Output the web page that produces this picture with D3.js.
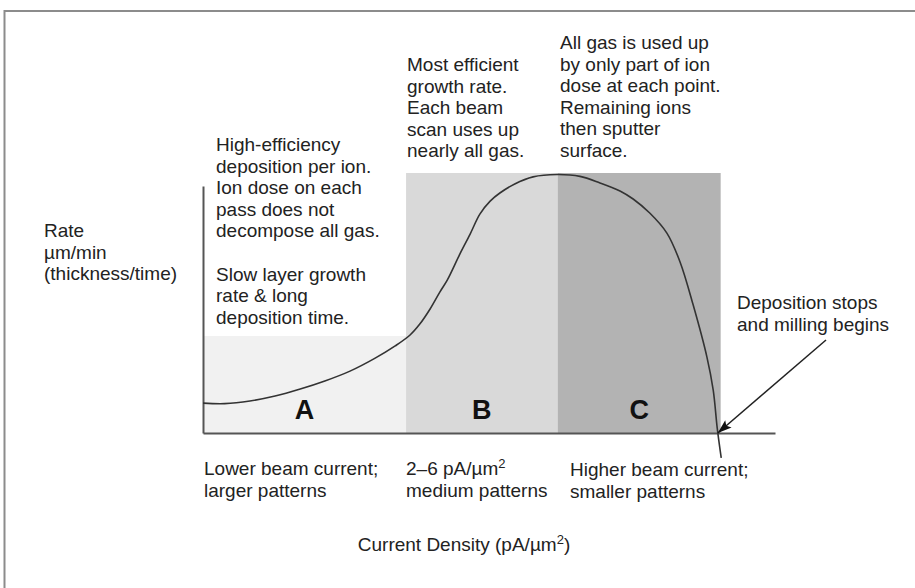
<!DOCTYPE html>
<html>
<head>
<meta charset="utf-8">
<script src="https://cdn.jsdelivr.net/npm/d3@7"></script>
<style>
  html, body { margin: 0; padding: 0; background: #fff; }
  svg { display: block; font-family: "Liberation Sans", Arial, Helvetica, sans-serif; }
</style>
</head>
<body>
<svg id="chart" width="915" height="588"></svg>
<script>
// Deposition rate vs. current density (arbitrary units, 0–100 on both axes)
const curveX = [0, 3.8, 8.2, 12.6, 17.0, 21.3, 25.7, 30.1, 33.6, 36.2, 37.9, 39.7, 41.4, 42.7, 44.9, 46.7, 48.4,
                50.2, 51.9, 54.5, 57.7, 61.9, 65.9, 69.4, 72.9, 75.2, 78.1, 81.1, 83.4, 85.7, 88.1, 89.2, 89.9, 90.6];
const curveY = [11.5, 11.3, 12.3, 14.2, 16.9, 20.0, 23.8, 28.8, 33.5, 37.7, 41.9, 47.7, 54.2, 58.8, 68.8, 76.5, 84.2,
                89.2, 92.3, 95.8, 98.5, 99.4, 98.7, 96.2, 93.1, 90.0, 84.6, 76.9, 65.8, 49.2, 29.2, 16.5, 1.9, -9.6];

// Operating regimes: start, end, band height, fill
const zoneNames = ["A", "B", "C"];
const zoneStart = [0, 35.5, 62];
const zoneEnd = [35.5, 62, 90.5];
const zoneTop = [37.3, 100, 100];
const zoneFill = ["#f1f1f1", "#d9d9d9", "#b3b3b3"];

const xMax = 100, yMax = 95;
const millingPoint = 90; // where the rate falls to zero

const svg = d3.select("#chart");
const x = d3.scaleLinear().domain([0, xMax]).range([203, 775]);
const y = d3.scaleLinear().domain([0, yMax]).range([433, 186]);

// outer frame
svg.append("rect")
  .attr("x", 4.5).attr("y", 11).attr("width", 1000).attr("height", 1000)
  .attr("fill", "none").attr("stroke", "#8c8c8c").attr("stroke-width", 2);

// regime bands
svg.append("g").selectAll("rect").data(zoneNames).join("rect")
  .attr("x", (d, i) => x(zoneStart[i]))
  .attr("y", (d, i) => y(zoneTop[i]))
  .attr("width", (d, i) => x(zoneEnd[i]) - x(zoneStart[i]))
  .attr("height", (d, i) => y(0) - y(zoneTop[i]))
  .attr("fill", (d, i) => zoneFill[i]);

// regime letters
svg.append("g").selectAll("text").data(zoneNames).join("text")
  .attr("x", (d, i) => x((zoneStart[i] + zoneEnd[i]) / 2))
  .attr("y", 419)
  .attr("text-anchor", "middle")
  .attr("font-size", 27).attr("font-weight", "bold").attr("fill", "#111")
  .text(d => d);

// axes (lines only)
svg.append("g").attr("transform", `translate(0,${y(0)})`)
  .call(d3.axisBottom(x).tickValues([]).tickSizeOuter(0))
  .call(g => g.select(".domain").attr("stroke", "#555").attr("stroke-width", 2));
svg.append("g").attr("transform", `translate(${x(0)},0)`)
  .call(d3.axisLeft(y).tickValues([]).tickSizeOuter(0))
  .call(g => g.select(".domain").attr("stroke", "#555").attr("stroke-width", 2));

// rate curve
const pts = curveX.map((v, i) => [v, curveY[i]]);
svg.append("path")
  .datum(pts)
  .attr("d", d3.line().x(d => x(d[0])).y(d => y(d[1])).curve(d3.curveCatmullRom.alpha(0.5)))
  .attr("fill", "none").attr("stroke", "#333").attr("stroke-width", 1.6);

// arrow to the milling point
svg.append("defs").append("marker")
  .attr("id", "head").attr("viewBox", "0 0 10 10").attr("refX", 10).attr("refY", 5)
  .attr("markerUnits", "userSpaceOnUse")
  .attr("markerWidth", 14).attr("markerHeight", 14).attr("orient", "auto")
  .append("path").attr("d", "M0,1.5 L10,5 L0,8.5 L2,5 Z").attr("fill", "#111");
svg.append("line")
  .attr("x1", 826).attr("y1", 340)
  .attr("x2", x(millingPoint)).attr("y2", y(0))
  .attr("stroke", "#222").attr("stroke-width", 1.5)
  .attr("marker-end", "url(#head)");

// text blocks
const fs = 19, lh = 21.6;
function block(lines, x0, y0) {
  const t = svg.append("text").attr("font-size", fs).attr("fill", "#222");
  lines.forEach((s, i) => {
    if (s === null) return;
    t.append("tspan").attr("x", x0).attr("y", y0 + i * lh).text(s);
  });
  return t;
}

block(["Rate", "µm/min", "(thickness/time)"], 44, 237);
block(["High-efficiency", "deposition per ion.", "Ion dose on each", "pass does not",
       "decompose all gas.", null, "Slow layer growth", "rate & long", "deposition time."], 216, 151);
block(["Most efficient", "growth rate.", "Each beam", "scan uses up", "nearly all gas."], 407, 71);
block(["All gas is used up", "by only part of ion", "dose at each point.", "Remaining ions",
       "then sputter", "surface."], 560, 49);
block(["Deposition stops", "and milling begins"], 737, 309);
block(["Lower beam current;", "larger patterns"], 204, 475);
block(["Higher beam current;", "smaller patterns"], 570, 476);

// "2–6 pA/µm²" with superscript
const mid = svg.append("text").attr("font-size", fs).attr("fill", "#222");
const l1 = mid.append("tspan").attr("x", 406).attr("y", 475);
l1.append("tspan").text("2–6 pA/µm");
l1.append("tspan").attr("font-size", 13).attr("dy", -7).text("2");
mid.append("tspan").attr("x", 406).attr("y", 475 + lh).text("medium patterns");

// x-axis title
const xt = svg.append("text").attr("font-size", fs).attr("fill", "#222")
  .attr("x", 464).attr("y", 551).attr("text-anchor", "middle");
xt.append("tspan").text("Current Density (pA/µm");
xt.append("tspan").attr("font-size", 13).attr("dy", -7).text("2");
xt.append("tspan").attr("dy", 7).text(")");
</script>
</body>
</html>
